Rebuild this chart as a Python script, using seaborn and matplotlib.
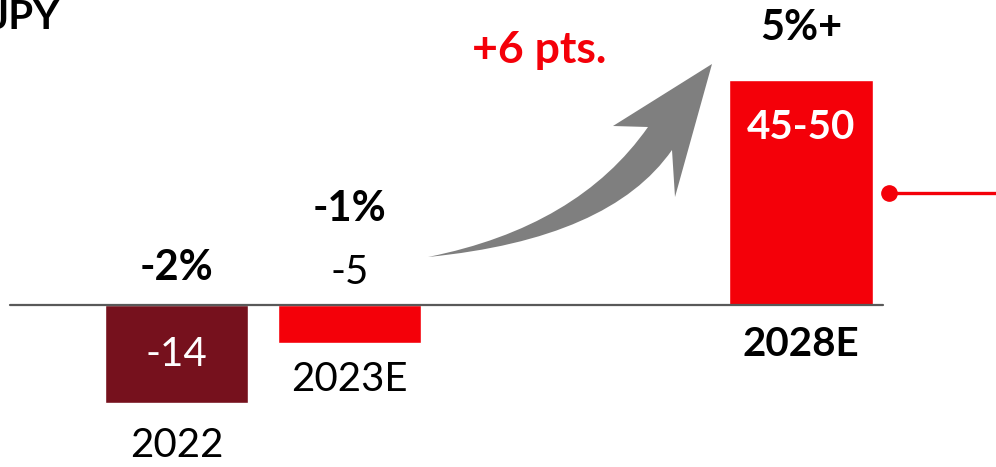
import matplotlib
matplotlib.use("Agg")
from matplotlib import pyplot as plt
from matplotlib.path import Path
from matplotlib.patches import PathPatch
from matplotlib.transforms import Affine2D
import seaborn as sns
import pandas as pd

# data (bar heights as drawn, labels as printed)
years = ["2022", "2023E", "2028E"]
x_pos = [0, 1, 3.61]
bar_heights = [-14, -5.4, 32.1]
value_labels = ["-14", "-5", "45-50"]
growth_labels = ["-2%", "-1%", "5%+"]
bar_colors = ["#76111D", "#F40009", "#F40009"]

RED = "#F40009"
GREY = "#7F7F7F"

df = pd.DataFrame({"year": years, "pos": x_pos, "height": bar_heights})

sns.set_theme(style="white")
plt.rcParams["font.family"] = ["Lato", "DejaVu Sans"]
plt.rcParams["text.color"] = "black"

fig = plt.figure(figsize=(9.96, 4.67), dpi=100)
ax = fig.add_axes([0, 0, 1, 1])

sns.barplot(data=df, x="pos", y="height", hue="year", palette=bar_colors,
            native_scale=True, width=0.827, dodge=False, saturation=1,
            legend=False, ax=ax)

ax.set_xlim(-1.02, 4.737)
ax.set_ylim(-23.14, 43.57)
ax.axis("off")

# baseline
ax.plot([-0.962, 4.084], [0, 0], color="#595959", lw=1.6, zorder=3)

# value labels
ax.text(x_pos[0], bar_heights[0] / 2, value_labels[0], ha="center", va="center",
        color="white", fontsize=29)
ax.text(x_pos[1], 4.6, value_labels[1], ha="center", va="center", fontsize=29)
ax.text(x_pos[2], bar_heights[2] - 6.8, value_labels[2], ha="center", va="center",
        color="white", fontsize=29, fontweight="bold")

# year labels
ax.text(x_pos[0], -20, years[0], ha="center", va="center", fontsize=29)
ax.text(x_pos[1], -10.7, years[1], ha="center", va="center", fontsize=29)
ax.text(x_pos[2], -5.7, years[2], ha="center", va="center", fontsize=29,
        fontweight="bold")

# growth labels
for xp, yy, lab in zip(x_pos, [5.3, 13.7, 39.6], growth_labels):
    ax.text(xp, yy, lab, ha="center", va="center", fontsize=30, fontweight="bold")

ax.text(2.095, 36.4, "+6 pts.", ha="center", va="center", fontsize=32,
        fontweight="bold", color=RED)
ax.text(-0.675, 41.1, "JPY", ha="right", va="center", fontsize=29,
        fontweight="bold")

# curved arrow (image pixel coords, y down)
to_disp = Affine2D().scale(1, -1).translate(0, 467)
verts = [(428, 257), (578, 227), (648, 127),
         (613, 126), (712, 64), (675, 197), (672, 150),
         (610, 239), (428, 257), (428, 257)]
codes = [Path.MOVETO, Path.CURVE3, Path.CURVE3,
         Path.LINETO, Path.LINETO, Path.LINETO, Path.LINETO,
         Path.CURVE3, Path.CURVE3, Path.CLOSEPOLY]
arrow = PathPatch(Path(verts, codes), facecolor=GREY, edgecolor="none",
                  transform=to_disp)
fig.patches.append(arrow)

# red pointer on the right
ax.plot([4.12, 4.74], [16, 16], color=RED, lw=2.4, zorder=3)
ax.plot([4.12], [16], "o", color=RED, markersize=11, zorder=4)

fig.savefig("out.png", dpi=100)
